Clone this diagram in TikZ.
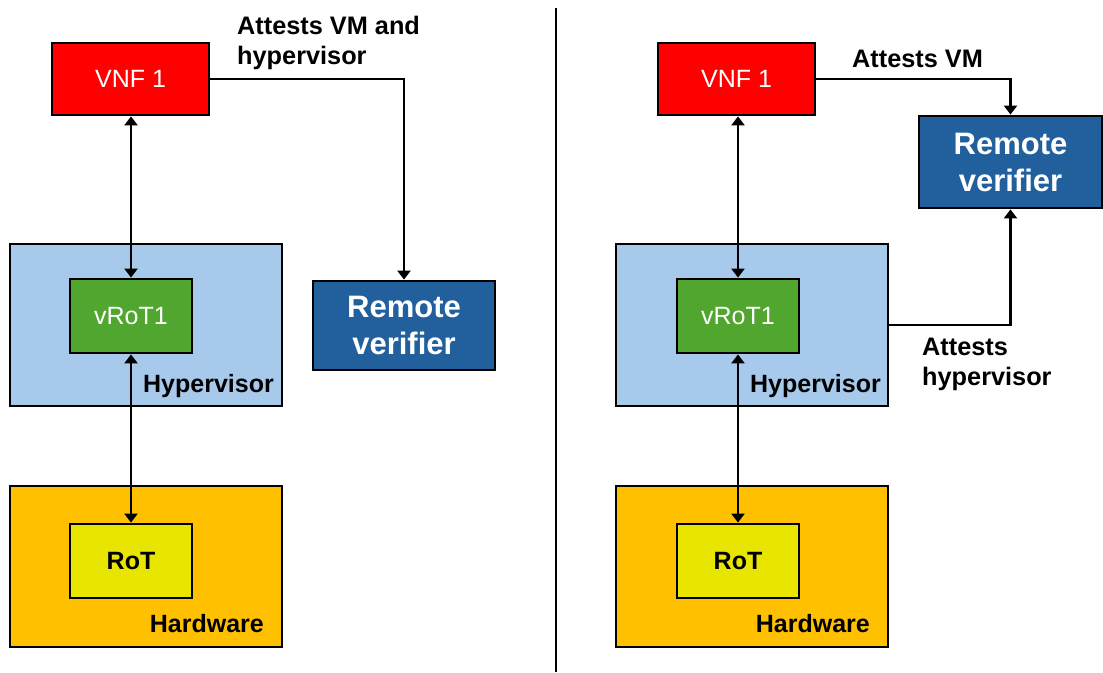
\documentclass[tikz,border=0pt]{standalone}
\usepackage{fontspec}
\setmainfont{Liberation Sans}
\usetikzlibrary{arrows.meta}
\definecolor{vnfred}{RGB}{255,0,0}
\definecolor{hypblue}{RGB}{166,201,236}
\definecolor{vrotgreen}{RGB}{80,166,46}
\definecolor{hworange}{RGB}{255,192,0}
\definecolor{rotyellow}{RGB}{232,230,0}
\definecolor{verblue}{RGB}{34,96,157}
\tikzset{
  box/.style={draw=black, line width=2.8pt, inner sep=0pt, rectangle},
  vnfbox/.style={box, fill=vnfred, text=white, minimum width=157pt, minimum height=72pt,
    font=\fontsize{25}{30}\selectfont},
  layerbox/.style={box, minimum width=272pt, minimum height=162pt},
  innerbox/.style={box, minimum width=122pt, minimum height=74pt},
  verbox/.style={box, fill=verblue, text=white, align=center,
    font=\fontsize{31}{37}\selectfont\bfseries},
  layerlabel/.style={anchor=base east, inner sep=0pt, font=\fontsize{25}{30}\selectfont\bfseries},
  note/.style={anchor=base west, inner sep=0pt, align=left, font=\fontsize{25.3}{30}\selectfont\bfseries},
  tip/.tip={Triangle[width=13pt,length=9pt]},
  link/.style={line width=2.8pt, -tip},
  duplex/.style={line width=2.8pt, tip-tip},
}
\begin{document}
\begin{tikzpicture}[x=1pt,y=1pt]
  \useasboundingbox (0,0) rectangle (1103,672);

  % ---- left: one verifier link attests VM and hypervisor together ----
  \node[layerbox, fill=hypblue] (hypL) at (146,347) {};
  \node[layerbox, fill=hworange, minimum height=161pt] (hwL) at (146,105.5) {};
  \node[vnfbox] (vnfL) at (130.5,593) {VNF 1};
  \node[innerbox, fill=vrotgreen, text=white, font=\fontsize{25}{30}\selectfont] (vrotL) at (131,356) {vRoT1};
  \node[innerbox, fill=rotyellow, font=\fontsize{25}{30}\selectfont\bfseries] (rotL) at (131,111) {RoT};
  \node[verbox, minimum width=182pt, minimum height=89pt] (verL) at (404,346.5) {Remote\\verifier};
  \node[layerlabel] (hyplabL) at (274,279) {Hypervisor};
  \node[layerlabel] (hwlabL) at (264,39) {Hardware};
  % multi-line notes are anchored on the baseline of their last line
  \node[note] (attL) at (237,607) {Attests VM and\\hypervisor};

  \draw[duplex] (vnfL.south -| vrotL.north) -- (vrotL.north);
  \draw[duplex] (vrotL.south) -- (rotL.north);
  \draw[link] (vnfL.east) -| (verL.north);

  % ---- divider ----
  \coordinate (divtop) at (556,664);
  \coordinate (divbot) at (556,0);
  \draw[line width=2.4pt] (divtop) -- (divbot);

  % ---- right: VM and hypervisor attested separately ----
  \node[layerbox, fill=hypblue] (hypR) at (752,347) {};
  \node[layerbox, fill=hworange, minimum height=161pt] (hwR) at (752,105.5) {};
  \node[vnfbox] (vnfR) at (736.5,593) {VNF 1};
  \node[innerbox, fill=vrotgreen, text=white, font=\fontsize{25}{30}\selectfont] (vrotR) at (738,356) {vRoT1};
  \node[innerbox, fill=rotyellow, font=\fontsize{25}{30}\selectfont\bfseries] (rotR) at (738,111) {RoT};
  \node[verbox, minimum width=183pt, minimum height=92pt] (verR) at (1010.5,510) {Remote\\verifier};
  \node[layerlabel] (hyplabR) at (881,279) {Hypervisor};
  \node[layerlabel] (hwlabR) at (870,39) {Hardware};
  \node[note] (attVM) at (852,604) {Attests VM};
  \node[note] (attHyp) at (922,286) {Attests\\hypervisor};

  \draw[duplex] (vnfR.south -| vrotR.north) -- (vrotR.north);
  \draw[duplex] (vrotR.south) -- (rotR.north);
  \draw[link] (vnfR.east) -| (verR.north);
  \draw[link] (hypR.east) -| (verR.south);
\end{tikzpicture}
\end{document}
